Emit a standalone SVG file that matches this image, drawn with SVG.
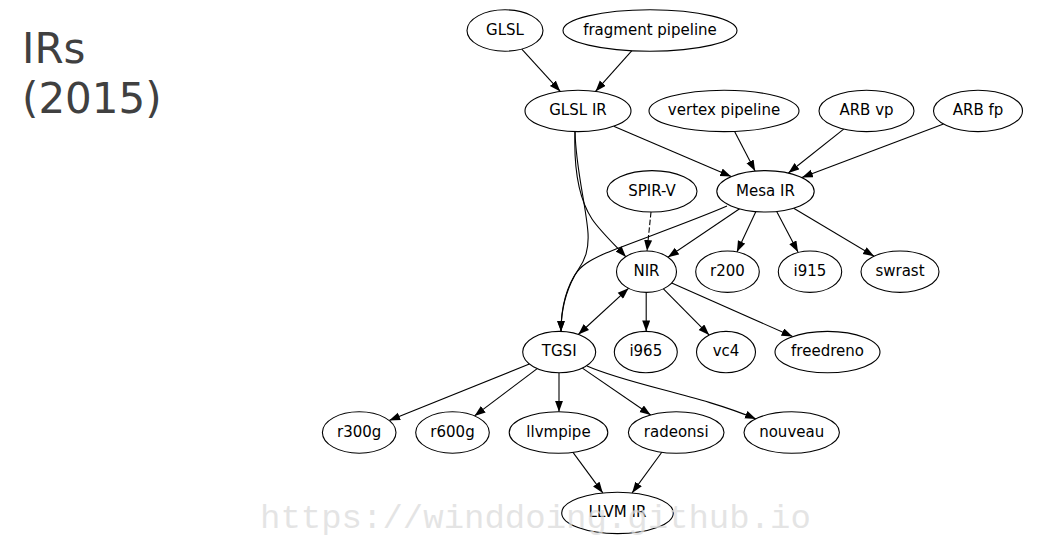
<svg xmlns="http://www.w3.org/2000/svg" width="1038" height="538" viewBox="0 0 1038 538">
<style>
.n ellipse{fill:#ffffff;stroke:#000000;stroke-width:1.1}
.n text{font-family:"DejaVu Sans","Liberation Sans",sans-serif;font-size:15px;fill:#000000;text-anchor:middle}
.e path{fill:none;stroke:#000000;stroke-width:1.1;marker-end:url(#ah)}
.e path.d{stroke-dasharray:5.5,2.2}
.e path.b{marker-start:url(#ahs)}
.title{font-family:"DejaVu Sans","Liberation Sans",sans-serif;font-size:42px;fill:#404040}
.wm{font-family:"Liberation Mono","DejaVu Sans Mono",monospace;font-size:34px;fill:#dcdcdc;fill-opacity:0.75}
</style>
<defs>
<marker id="ah" markerWidth="12" markerHeight="9" refX="11" refY="4" orient="auto" markerUnits="userSpaceOnUse"><path d="M0,0 L11,4 L0,8 z" fill="#000"/></marker>
<marker id="ahs" markerWidth="12" markerHeight="9" refX="0" refY="4" orient="auto" markerUnits="userSpaceOnUse"><path d="M11,0 L0,4 L11,8 z" fill="#000"/></marker>
</defs>
<rect width="1038" height="538" fill="#ffffff"/>
<g id="title">
<text class="title" x="22" y="63">IRs</text>
<text class="title" x="22" y="113">(2015)</text>
</g>
<g id="connectors" class="e">
<path d="M521.8,49.1 L560.3,91.4"/>
<path d="M631.9,50.7 L595.5,91.4"/>
<path d="M613.7,126.2 L731.2,176.6"/>
<path d="M575,131.7 C574,160 577,196 592,219 C600,231 616,246 626,257"/>
<path d="M575,131.7 C576,170 586,205 588,233 C589,250 585,260 578,270 C566,287 561,310 561,331.5"/>
<path d="M734.6,131.4 L755.1,171.1"/>
<path d="M843.7,129.1 L788.4,173"/>
<path d="M943.5,124 L801.9,177.5"/>
<path class="d" d="M651,212 L647,251"/>
<path d="M727,206 C690,222 630,243 606,253 C590,260 580,266 575,275 C565,293 561,310 561,331.5"/>
<path d="M739.6,208.8 L667.9,257.2"/>
<path d="M755.9,211.6 L736.9,251.9"/>
<path d="M776.7,211.5 L798,252"/>
<path d="M793.7,208.2 L874.1,256.2"/>
<path class="b" d="M628.5,288.3 L578.3,334.5"/>
<path d="M646.2,292.4 L646.2,331.4"/>
<path d="M663.4,288.8 L709.2,335.1"/>
<path d="M671.7,282.9 L792.6,336.6"/>
<path d="M529.4,364.1 L389.1,420.5"/>
<path d="M537.2,368.6 L474.5,415.9"/>
<path d="M559,372.8 L559,411.8"/>
<path d="M582.4,368.1 L650.7,415"/>
<path d="M587,366 C630,385 700,395 756,419"/>
<path d="M573,452.3 L602.8,492.9"/>
<path d="M661.8,452.2 L632.1,492.9"/>
</g>
<g id="GLSL" class="n"><ellipse cx="505" cy="30.5" rx="38" ry="20.7"/><text x="505" y="34.8">GLSL</text></g>
<g id="fragment_pipeline" class="n"><ellipse cx="650" cy="30.5" rx="87" ry="20.7"/><text x="650" y="34.8">fragment pipeline</text></g>
<g id="GLSL_IR" class="n"><ellipse cx="578" cy="110.9" rx="53" ry="20.7"/><text x="578" y="115.2">GLSL IR</text></g>
<g id="vertex_pipeline" class="n"><ellipse cx="724" cy="110.9" rx="75" ry="20.7"/><text x="724" y="115.2">vertex pipeline</text></g>
<g id="ARB_vp" class="n"><ellipse cx="866.5" cy="110.9" rx="47.5" ry="20.7"/><text x="866.5" y="115.2">ARB vp</text></g>
<g id="ARB_fp" class="n"><ellipse cx="978" cy="110.9" rx="44.5" ry="20.7"/><text x="978" y="115.2">ARB fp</text></g>
<g id="SPIR-V" class="n"><ellipse cx="652" cy="191.3" rx="45" ry="20.7"/><text x="652" y="195.6">SPIR-V</text></g>
<g id="Mesa_IR" class="n"><ellipse cx="765.5" cy="191.3" rx="48.7" ry="20.7"/><text x="765.5" y="195.6">Mesa IR</text></g>
<g id="NIR" class="n"><ellipse cx="646.5" cy="271.7" rx="30" ry="20.7"/><text x="646.5" y="276">NIR</text></g>
<g id="r200" class="n"><ellipse cx="727.5" cy="271.7" rx="31.8" ry="20.7"/><text x="727.5" y="276">r200</text></g>
<g id="i915" class="n"><ellipse cx="810" cy="271.7" rx="31.7" ry="20.7"/><text x="810" y="276">i915</text></g>
<g id="swrast" class="n"><ellipse cx="900" cy="271.7" rx="39" ry="20.7"/><text x="900" y="276">swrast</text></g>
<g id="TGSI" class="n"><ellipse cx="559.2" cy="352.1" rx="36.5" ry="20.7"/><text x="559.2" y="356.4">TGSI</text></g>
<g id="i965" class="n"><ellipse cx="645.8" cy="352.1" rx="31.5" ry="20.7"/><text x="645.8" y="356.4">i965</text></g>
<g id="vc4" class="n"><ellipse cx="726" cy="352.1" rx="29.5" ry="20.7"/><text x="726" y="356.4">vc4</text></g>
<g id="freedreno" class="n"><ellipse cx="827.5" cy="352.1" rx="52.5" ry="20.7"/><text x="827.5" y="356.4">freedreno</text></g>
<g id="r300g" class="n"><ellipse cx="359.2" cy="432.5" rx="36.8" ry="20.7"/><text x="359.2" y="436.8">r300g</text></g>
<g id="r600g" class="n"><ellipse cx="452.5" cy="432.5" rx="36.8" ry="20.7"/><text x="452.5" y="436.8">r600g</text></g>
<g id="llvmpipe" class="n"><ellipse cx="558.5" cy="432.5" rx="49.3" ry="20.7"/><text x="558.5" y="436.8">llvmpipe</text></g>
<g id="radeonsi" class="n"><ellipse cx="676.2" cy="432.5" rx="47.8" ry="20.7"/><text x="676.2" y="436.8">radeonsi</text></g>
<g id="nouveau" class="n"><ellipse cx="791.7" cy="432.5" rx="47.7" ry="20.7"/><text x="791.7" y="436.8">nouveau</text></g>
<g id="LLVM_IR" class="n"><ellipse cx="617.5" cy="512.9" rx="55.8" ry="20.7"/><text x="617.5" y="517.2">LLVM IR</text></g>
<g id="watermark"><text class="wm" x="260" y="528">https://winddoing.github.io</text></g>
</svg>
